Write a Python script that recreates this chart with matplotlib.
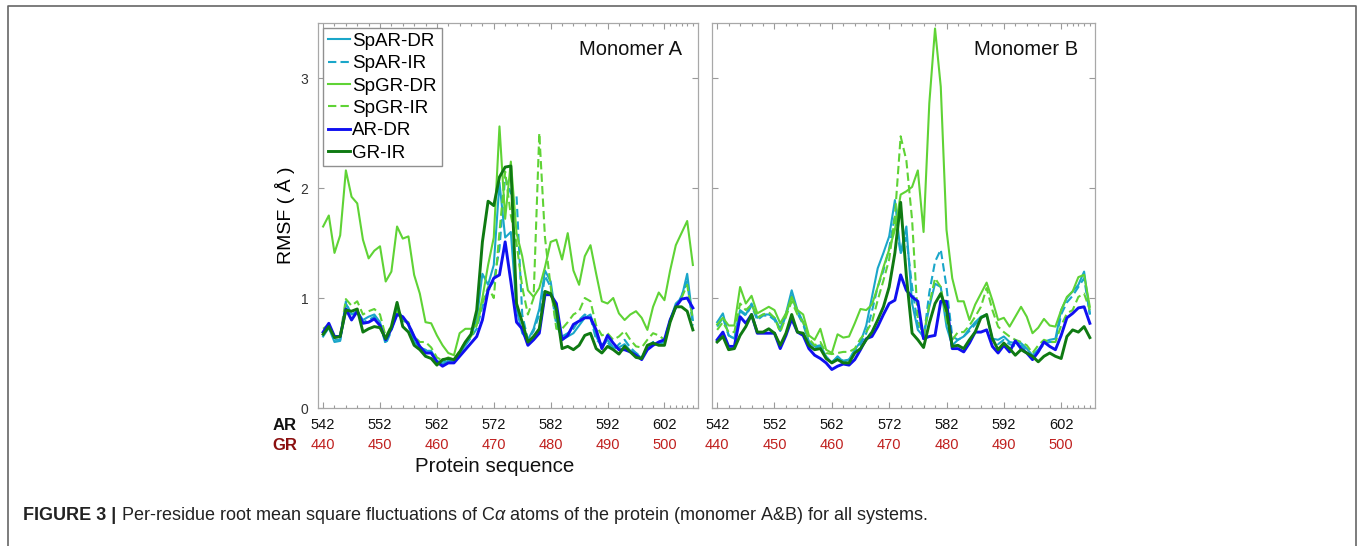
import numpy as np
import matplotlib
matplotlib.use("Agg")
import matplotlib.pyplot as plt
from matplotlib.ticker import FixedLocator, NullFormatter

plt.rcParams['font.family'] = ['Liberation Sans', 'DejaVu Sans']
plt.rcParams['mathtext.fontset'] = 'custom'
plt.rcParams['mathtext.rm'] = 'Liberation Sans'
plt.rcParams['mathtext.it'] = 'Liberation Sans:italic'
plt.rcParams['mathtext.bf'] = 'Liberation Sans:bold'

# residues (AR numbering), GR numbering is offset by 102
residues = np.arange(542, 608)
ar_ticks = [542, 552, 562, 572, 582, 592, 602]
gr_labels = [440, 450, 460, 470, 480, 490, 500]

series_names = ['SpAR-DR', 'SpAR-IR', 'SpGR-DR', 'SpGR-IR', 'AR-DR', 'GR-IR']

# ---- Monomer A ----
a_spar_dr = [0.65, 0.73, 0.60, 0.61, 0.95, 0.85, 0.88, 0.80, 0.83, 0.85, 0.78, 0.60, 0.72, 0.90, 0.82, 0.76,
             0.60, 0.55, 0.52, 0.52, 0.43, 0.40, 0.43, 0.42, 0.50, 0.57, 0.66, 0.80, 1.22, 1.12, 1.30, 2.05,
             1.55, 1.60, 0.90, 0.68, 0.62, 0.72, 0.90, 1.25, 1.15, 0.80, 0.62, 0.65, 0.68, 0.75, 0.82, 0.85,
             0.65, 0.55, 0.62, 0.55, 0.55, 0.58, 0.52, 0.50, 0.45, 0.55, 0.58, 0.58, 0.60, 0.80, 0.95, 1.00,
             1.22, 0.80]
a_spar_ir = [0.66, 0.74, 0.62, 0.62, 0.97, 0.83, 0.87, 0.78, 0.80, 0.83, 0.76, 0.58, 0.70, 0.88, 0.80, 0.75,
             0.60, 0.55, 0.53, 0.50, 0.42, 0.42, 0.44, 0.42, 0.50, 0.57, 0.64, 0.72, 0.92, 1.08, 1.15, 1.45,
             2.10, 1.95, 1.93, 0.85, 0.62, 0.70, 0.85, 1.20, 1.10, 0.75, 0.65, 0.68, 0.72, 0.80, 0.85, 0.82,
             0.62, 0.58, 0.60, 0.52, 0.58, 0.62, 0.55, 0.50, 0.46, 0.55, 0.60, 0.60, 0.62, 0.80, 0.92, 1.02,
             1.15, 0.75]
a_spgr_dr = [1.65, 1.75, 1.41, 1.57, 2.16, 1.92, 1.86, 1.53, 1.36, 1.43, 1.47, 1.15, 1.24, 1.65, 1.54, 1.56,
             1.21, 1.04, 0.78, 0.77, 0.66, 0.57, 0.50, 0.48, 0.68, 0.72, 0.72, 0.76, 1.00, 1.30, 1.55, 2.56,
             1.72, 2.24, 1.59, 1.38, 1.07, 1.01, 1.09, 1.28, 1.51, 1.53, 1.35, 1.59, 1.25, 1.12, 1.38, 1.48,
             1.22, 0.97, 0.95, 1.00, 0.86, 0.80, 0.85, 0.88, 0.82, 0.71, 0.92, 1.05, 0.98, 1.25, 1.48, 1.59,
             1.70, 1.30]
a_spgr_ir = [0.72, 0.76, 0.65, 0.66, 0.99, 0.93, 0.97, 0.85, 0.88, 0.90, 0.85, 0.65, 0.75, 0.88, 0.80, 0.78,
             0.65, 0.60, 0.60, 0.55, 0.46, 0.43, 0.46, 0.44, 0.52, 0.60, 0.65, 0.75, 0.95, 1.10, 1.00, 1.60,
             2.15, 1.75, 1.50, 1.10, 0.85, 1.00, 2.50, 1.55, 1.10, 0.72, 0.72, 0.78, 0.85, 0.88, 1.00, 0.97,
             0.75, 0.66, 0.68, 0.62, 0.65, 0.70, 0.62, 0.56, 0.55, 0.62, 0.68, 0.66, 0.62, 0.78, 0.92, 1.00,
             1.12, 0.80]
a_ar_dr = [0.69, 0.77, 0.65, 0.65, 0.90, 0.80, 0.88, 0.77, 0.78, 0.81, 0.75, 0.62, 0.72, 0.85, 0.83, 0.76,
           0.65, 0.56, 0.50, 0.50, 0.42, 0.38, 0.41, 0.41, 0.47, 0.53, 0.59, 0.65, 0.80, 1.07, 1.18, 1.21,
           1.51, 1.15, 0.78, 0.72, 0.57, 0.62, 0.68, 1.03, 1.03, 0.95, 0.62, 0.66, 0.76, 0.79, 0.82, 0.82,
           0.71, 0.54, 0.66, 0.59, 0.53, 0.53, 0.51, 0.48, 0.44, 0.53, 0.57, 0.60, 0.62, 0.80, 0.92, 0.99,
           1.00, 0.91]
a_gr_ir = [0.67, 0.74, 0.64, 0.65, 0.89, 0.88, 0.90, 0.69, 0.72, 0.74, 0.73, 0.63, 0.74, 0.96, 0.74, 0.69,
           0.57, 0.53, 0.47, 0.45, 0.39, 0.44, 0.45, 0.44, 0.51, 0.60, 0.67, 0.89, 1.51, 1.88, 1.84, 2.10,
           2.19, 2.20, 0.95, 0.78, 0.60, 0.65, 0.72, 1.06, 1.04, 0.90, 0.54, 0.56, 0.53, 0.57, 0.66, 0.68,
           0.54, 0.50, 0.56, 0.53, 0.49, 0.56, 0.51, 0.46, 0.45, 0.57, 0.59, 0.57, 0.57, 0.78, 0.92, 0.92,
           0.88, 0.71]

# ---- Monomer B ----
b_spar_dr = [0.78, 0.86, 0.66, 0.63, 0.89, 0.85, 0.95, 0.82, 0.85, 0.85, 0.82, 0.72, 0.86, 1.07, 0.89, 0.78,
             0.60, 0.56, 0.57, 0.47, 0.41, 0.47, 0.42, 0.44, 0.53, 0.60, 0.75, 1.01, 1.27, 1.41, 1.56, 1.89,
             1.41, 1.65, 0.95, 0.71, 0.65, 0.92, 1.13, 1.10, 0.74, 0.57, 0.62, 0.65, 0.72, 0.78, 0.83, 0.85,
             0.63, 0.62, 0.65, 0.60, 0.59, 0.59, 0.54, 0.48, 0.53, 0.60, 0.62, 0.63, 0.89, 1.00, 1.06, 1.12,
             1.24, 0.86]
b_spar_ir = [0.74, 0.82, 0.66, 0.63, 0.88, 0.84, 0.93, 0.80, 0.84, 0.84, 0.80, 0.70, 0.84, 1.02, 0.86, 0.76,
             0.60, 0.55, 0.56, 0.46, 0.42, 0.46, 0.43, 0.44, 0.52, 0.58, 0.68, 0.88, 1.10, 1.25, 1.45, 1.75,
             1.40, 1.55, 1.10, 0.75, 0.63, 1.05, 1.33, 1.44, 1.10, 0.65, 0.62, 0.65, 0.70, 0.76, 0.82, 0.84,
             0.62, 0.58, 0.62, 0.58, 0.56, 0.57, 0.52, 0.47, 0.52, 0.58, 0.60, 0.60, 0.85, 0.96, 1.02, 1.10,
             1.18, 0.85]
b_spgr_dr = [0.76, 0.82, 0.75, 0.75, 1.10, 0.95, 1.02, 0.86, 0.89, 0.92, 0.89, 0.77, 0.86, 1.01, 0.89, 0.85,
             0.66, 0.62, 0.72, 0.53, 0.50, 0.67, 0.64, 0.65, 0.77, 0.90, 0.89, 0.94, 1.10, 1.28, 1.44, 1.62,
             1.94, 1.97, 2.01, 2.16, 1.60, 2.77, 3.45, 2.92, 1.62, 1.18, 0.97, 0.97, 0.80, 0.94, 1.04, 1.14,
             0.98, 0.80, 0.82, 0.74, 0.83, 0.92, 0.83, 0.68, 0.73, 0.81, 0.75, 0.74, 0.89, 1.01, 1.06, 1.19,
             1.21, 0.92]
b_spgr_ir = [0.71, 0.78, 0.69, 0.69, 0.95, 0.89, 0.94, 0.82, 0.85, 0.87, 0.82, 0.69, 0.83, 0.97, 0.85, 0.78,
             0.63, 0.57, 0.60, 0.50, 0.49, 0.50, 0.51, 0.51, 0.54, 0.63, 0.69, 0.78, 0.98, 1.16, 1.35, 1.74,
             2.47, 2.25, 1.71, 0.80, 0.66, 0.94, 1.18, 1.10, 0.80, 0.62, 0.69, 0.69, 0.75, 0.83, 0.92, 1.09,
             0.89, 0.74, 0.69, 0.65, 0.62, 0.60, 0.57, 0.50, 0.57, 0.62, 0.60, 0.60, 0.75, 0.86, 0.89, 1.01,
             1.04, 0.89]
b_ar_dr = [0.62, 0.69, 0.56, 0.56, 0.83, 0.77, 0.85, 0.68, 0.68, 0.68, 0.68, 0.54, 0.66, 0.81, 0.69, 0.66,
           0.54, 0.48, 0.45, 0.41, 0.35, 0.38, 0.40, 0.39, 0.44, 0.53, 0.63, 0.65, 0.74, 0.85, 0.95, 0.98,
           1.21, 1.07, 1.01, 0.97, 0.63, 0.65, 0.66, 0.97, 0.97, 0.54, 0.54, 0.51, 0.59, 0.69, 0.69, 0.71,
           0.56, 0.50, 0.57, 0.51, 0.61, 0.54, 0.50, 0.44, 0.51, 0.60, 0.56, 0.53, 0.66, 0.82, 0.86, 0.91,
           0.92, 0.77]
b_gr_ir = [0.60, 0.65, 0.53, 0.54, 0.66, 0.74, 0.85, 0.69, 0.69, 0.72, 0.68, 0.57, 0.68, 0.85, 0.69, 0.68,
           0.57, 0.53, 0.54, 0.45, 0.41, 0.44, 0.41, 0.41, 0.50, 0.54, 0.62, 0.69, 0.80, 0.92, 1.10, 1.41,
           1.87, 1.20, 0.68, 0.62, 0.55, 0.77, 0.95, 1.04, 0.89, 0.56, 0.57, 0.54, 0.62, 0.69, 0.82, 0.85,
           0.63, 0.53, 0.59, 0.54, 0.48, 0.53, 0.50, 0.47, 0.42, 0.47, 0.50, 0.47, 0.45, 0.65, 0.71, 0.69,
           0.74, 0.64]

colors = ['#1aa6c9', '#1aa6c9', '#5fd335', '#5fd335', '#1010f0', '#0f7a12']
styles = ['-', (0, (4, 2)), '-', (0, (4, 2)), '-', '-']
widths = [1.5, 1.5, 1.5, 1.5, 2.1, 2.1]

fig = plt.figure(figsize=(13.6, 5.46), dpi=100)
W, H = 1360, 546
axA = fig.add_axes([318 / W, 1 - 408 / H, 380 / W, 385 / H])
axB = fig.add_axes([712 / W, 1 - 408 / H, 383 / W, 385 / H])

panels = [
    (axA, [a_spar_dr, a_spar_ir, a_spgr_dr, a_spgr_ir, a_ar_dr, a_gr_ir], 'Monomer A'),
    (axB, [b_spar_dr, b_spar_ir, b_spgr_dr, b_spgr_ir, b_ar_dr, b_gr_ir], 'Monomer B'),
]

minor_pos = list(range(544, 602, 2)) + list(range(603, 608))

for ax, data, title in panels:
    for vals, name, c, ls, lw in zip(data, series_names, colors, styles, widths):
        ax.plot(residues, vals, color=c, linestyle=ls, linewidth=lw, label=name)
    ax.set_xlim(541.1, 607.9)
    ax.set_ylim(0, 3.5)
    ax.set_yticks([0, 1, 2, 3])
    ax.xaxis.set_major_locator(FixedLocator(ar_ticks))
    ax.xaxis.set_minor_locator(FixedLocator(minor_pos))
    ax.xaxis.set_major_formatter(NullFormatter())
    ax.tick_params(axis='both', which='both', direction='in', top=True, right=True,
                   color='#9a9a9a', width=0.8)
    ax.tick_params(axis='both', which='major', length=4)
    ax.tick_params(axis='x', which='minor', length=2.5)
    ax.tick_params(axis='y', labelsize=10, labelcolor='#333333', pad=7)
    for sp in ax.spines.values():
        sp.set_color('#a8a8a8')
        sp.set_linewidth(0.9)
    ax.text(0.957, 0.932, title, transform=ax.transAxes, ha='right', va='center',
            fontsize=14.5, color='#111111')
    # residue numbering rows below the axis
    for t, g in zip(ar_ticks, gr_labels):
        ax.text(t, -0.045, str(t), transform=ax.get_xaxis_transform(), ha='center',
                va='center', fontsize=10.5, color='#111111')
        ax.text(t, -0.096, str(g), transform=ax.get_xaxis_transform(), ha='center',
                va='center', fontsize=10.5, color='#c0201e')

axB.set_yticklabels([])
axA.set_ylabel('RMSF ( Å )', fontsize=14, labelpad=4)

axA.legend(loc='upper left', bbox_to_anchor=(0.014, 0.987), fontsize=13.5, frameon=True,
           fancybox=False, edgecolor='#909090', framealpha=1, handlelength=1.15,
           handletextpad=0.15, labelspacing=0.28, borderpad=0.25, borderaxespad=0)

fig.text(285 / W, 1 - 425 / H, 'AR', ha='center', va='center', fontsize=12,
         fontweight='bold', color='#111111')
fig.text(285 / W, 1 - 445 / H, 'GR', ha='center', va='center', fontsize=12,
         fontweight='bold', color='#8b1010')
fig.text(495 / W, 1 - 466 / H, 'Protein sequence', ha='center', va='center', fontsize=14.8,
         color='#111111')

# caption
cap1 = fig.text(23 / W, 1 - 516 / H, 'FIGURE 3 |', ha='left', va='center', fontsize=13,
                fontweight='bold', color='#222222')
plt.annotate(r' Per-residue root mean square fluctuations of C$\alpha$ atoms of the protein '
             '(monomer A&B) for all systems.', xy=(1, 0.5), xycoords=cap1, ha='left',
             va='center', fontsize=13, color='#222222', annotation_clip=False)

# figure frame (top, left, right)
fig.add_artist(plt.Line2D([8 / W, 8 / W, 1356 / W, 1356 / W], [0, 1 - 6 / H, 1 - 6 / H, 0],
                          transform=fig.transFigure, color='#666666', linewidth=1.2))

fig.savefig('out.png', dpi=100)
